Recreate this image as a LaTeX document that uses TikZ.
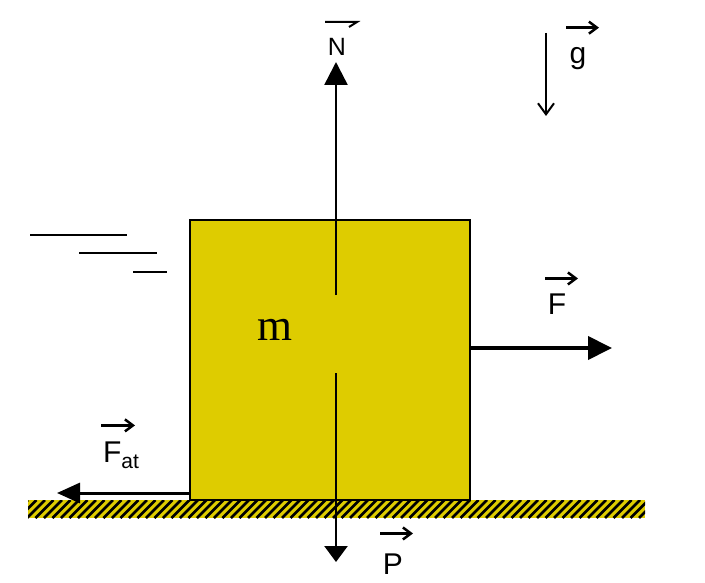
\documentclass[tikz,border=0pt]{standalone}
\usepackage{fontspec}
\setmainfont{Liberation Sans}
\newfontfamily\massfont{Liberation Serif}
\usetikzlibrary{arrows.meta}
\definecolor{blockyellow}{RGB}{222,204,0}

\tikzstyle{bS}=[draw=black,line width=2.5pt,fill=blockyellow,minimum width=280pt,minimum height=280pt,inner sep=0pt]
\tikzstyle{lS}=[inner sep=0pt,font=\fontsize{30}{30}\selectfont]
\tikzstyle{nS}=[inner sep=0pt,font=\fontsize{25}{25}\selectfont]
\tikzstyle{mS}=[inner sep=0pt,font=\massfont\fontsize{45}{45}\selectfont]
\tikzstyle{eS}=[line width=2.5pt,-{Triangle[length=23pt,width=23pt]}]
\tikzstyle{eP}=[line width=2.5pt,-{Triangle[length=16pt,width=23pt]}]
\tikzstyle{eF}=[line width=4pt,-{Triangle[length=24pt,width=23pt]}]
\tikzstyle{eA}=[line width=3pt,-{Triangle[length=23pt,width=20pt]}]
\tikzstyle{eG}=[line width=2pt,-{Straight Barb[length=11pt,width=16pt]}]
\tikzstyle{eV}=[line width=2.5pt,-{Straight Barb[length=8pt,width=12pt]}]
\tikzstyle{wS}=[line width=1.5pt]

\begin{document}
\begin{tikzpicture}[x=1pt,y=-1pt]
                \useasboundingbox (0,0) rectangle (705,583);
                % ground
                \begin{scope}
                    \clip (28,500) rectangle (645,518);
                    \fill[blockyellow] (28,500) rectangle (645,518);
                    \foreach \i in {0,...,76}
                        \draw[line width=2.8pt] (10+8.5*\i,518) -- (28+8.5*\i,500);
                \end{scope}
                \draw (330,360) node[bS] (blk) {};
                \draw (275,330) node[mS] (m) {m};
                % wind lines
                \draw (30,235) coordinate (w1a) (127,235) coordinate (w1b);
                \draw (79,253) coordinate (w2a) (157,253) coordinate (w2b);
                \draw (133,272) coordinate (w3a) (167,272) coordinate (w3b);
                \path
                    (w1a) edge[wS] (w1b)
                    (w2a) edge[line width=2.5pt] (w2b)
                    (w3a) edge[wS] (w3b)
                ;
                % forces
                \draw (336,295) coordinate (nA) (336,62) coordinate (nB);
                \draw (336,373) coordinate (pA) (336,562) coordinate (pB);
                \draw (470,348) coordinate (fA) (612,348) coordinate (fB);
                \draw (190,493) coordinate (aA) (57,493) coordinate (aB);
                \draw (546,33) coordinate (gA) (546,116) coordinate (gB);
                \path
                    (nA) edge[eS] (nB)
                    (pA) edge[eP] (pB)
                    (fA) edge[eF] (fB)
                    (aA) edge[eA] (aB)
                    (gA) edge[eG] (gB)
                ;
                % labels
                \draw (337,47) node[nS] (lN) {N};
                \draw (578,59) node[lS] (lg) {g};
                \draw (557,304) node[lS] (lF) {F};
                \draw (121,455) node[lS,anchor=center] (lFat) {F\fontsize{21}{21}\selectfont\raisebox{-6pt}{at}};
                \draw (393,564) node[lS] (lP) {P};
                \path
                    ([xshift=-12pt,yshift=20pt]lg.north) edge[eV] ([xshift=21pt,yshift=20pt]lg.north)
                    ([xshift=-12pt,yshift=15pt]lF.north) edge[eV] ([xshift=21pt,yshift=15pt]lF.north)
                    ([xshift=-20pt,yshift=16pt]lFat.north) edge[eV] ([xshift=14pt,yshift=16pt]lFat.north)
                    ([xshift=-13pt,yshift=20pt]lP.north) edge[eV] ([xshift=20pt,yshift=20pt]lP.north)
                ;
                \draw[line width=2pt] (325,22) -- (357,22) -- (349,27);
        \end{tikzpicture}
\end{document}
